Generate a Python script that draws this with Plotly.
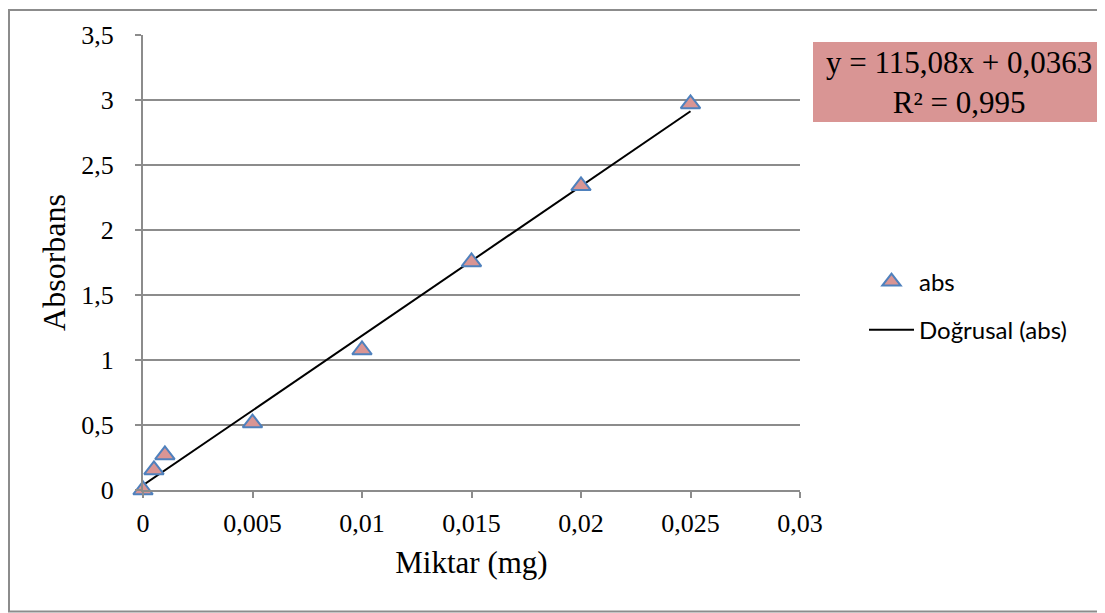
import plotly.graph_objects as go

# Data
miktar_mg = [0, 0.0005, 0.001, 0.005, 0.01, 0.015, 0.02, 0.025]
absorbans = [0.0, 0.154, 0.27, 0.515, 1.077, 1.754, 2.34, 2.97]

# Linear trendline coefficients (as printed on chart)
slope = 115.08
intercept = 0.0363
r_squared = 0.995
trend_x = [miktar_mg[0], miktar_mg[-1]]
trend_y = [slope * x + intercept for x in trend_x]

OFF = 8  # page body margin
W, H = 1105 - OFF, 613 - OFF
L, R, T, B = 135, 305, 27, 123
pw, ph = W - L - R, H - T - B


def px_x(p):
    return (p - OFF - L) / pw


def px_y(p):
    return (H - B - (p - OFF)) / ph


serif = "Liberation Serif"
sans = "Lato"

fig = go.Figure()
fig.add_trace(go.Scatter(
    x=trend_x, y=trend_y, mode="lines", name="Doğrusal (abs)",
    line=dict(color="black", width=2),
    legendgroup="b", legendrank=2,
))
fig.add_trace(go.Scatter(
    x=miktar_mg, y=absorbans, mode="markers", name="abs",
    marker=dict(symbol="triangle-up", size=17, color="#D99594",
                line=dict(color="#4F81BD", width=2)),
    legendgroup="a", legendrank=1, cliponaxis=False,
))

fig.update_layout(
    width=W, height=H,
    margin=dict(l=L, r=R, t=T, b=B),
    paper_bgcolor="white", plot_bgcolor="white",
    separators=",.",
    showlegend=True,
    legend=dict(x=px_x(864), y=px_y(306), xanchor="left", yanchor="middle",
                font=dict(family=sans, size=24, color="black"),
                tracegroupgap=14, itemwidth=45, bgcolor="rgba(0,0,0,0)"),
    xaxis=dict(range=[0, 0.03], dtick=0.005, tick0=0, showgrid=False,
               showline=True, linecolor="#8c8c8c", linewidth=2,
               ticks="outside", ticklen=6, tickcolor="#8c8c8c", tickwidth=2,
               zeroline=False, ticklabelstandoff=3,
               tickfont=dict(family=serif, size=26, color="black"),
               title=dict(text="Miktar (mg)", standoff=14,
                          font=dict(family=serif, size=31, color="black"))),
    yaxis=dict(range=[0, 3.5], dtick=0.5, tick0=0, showgrid=True,
               gridcolor="#8c8c8c", gridwidth=2,
               showline=True, linecolor="#8c8c8c", linewidth=2,
               ticks="outside", ticklen=6, tickcolor="#8c8c8c", tickwidth=2,
               zeroline=False, ticklabelstandoff=16,
               tickfont=dict(family=serif, size=26, color="black"),
               title=dict(text="Absorbans", standoff=6,
                          font=dict(family=serif, size=32, color="black"))),
)

# Outer chart border
fig.add_shape(type="rect", xref="paper", yref="paper",
              x0=px_x(9), x1=px_x(1103.5), y0=px_y(611.5), y1=px_y(10),
              line=dict(color="#8c8c8c", width=2), layer="above")
fig.add_shape(type="line", xref="paper", yref="paper",
              x0=px_x(9), x1=px_x(1103.5), y0=px_y(10), y1=px_y(10),
              line=dict(color="#8c8c8c", width=2), layer="above")
# Equation box
fig.add_shape(type="rect", xref="paper", yref="paper",
              x0=px_x(813), x1=px_x(1110), y0=px_y(122), y1=px_y(42),
              fillcolor="#D99594", line=dict(width=0), layer="above")
fig.add_annotation(xref="paper", yref="paper", x=px_x(959), y=px_y(83),
                   xanchor="center", yanchor="middle", showarrow=False,
                   text=f"y = {str(slope).replace('.', ',')}x + {str(intercept).replace('.', ',')}<br>R² = {str(r_squared).replace('.', ',')}",
                   font=dict(family=serif, size=31, color="black"))

fig.write_html("out.html")
